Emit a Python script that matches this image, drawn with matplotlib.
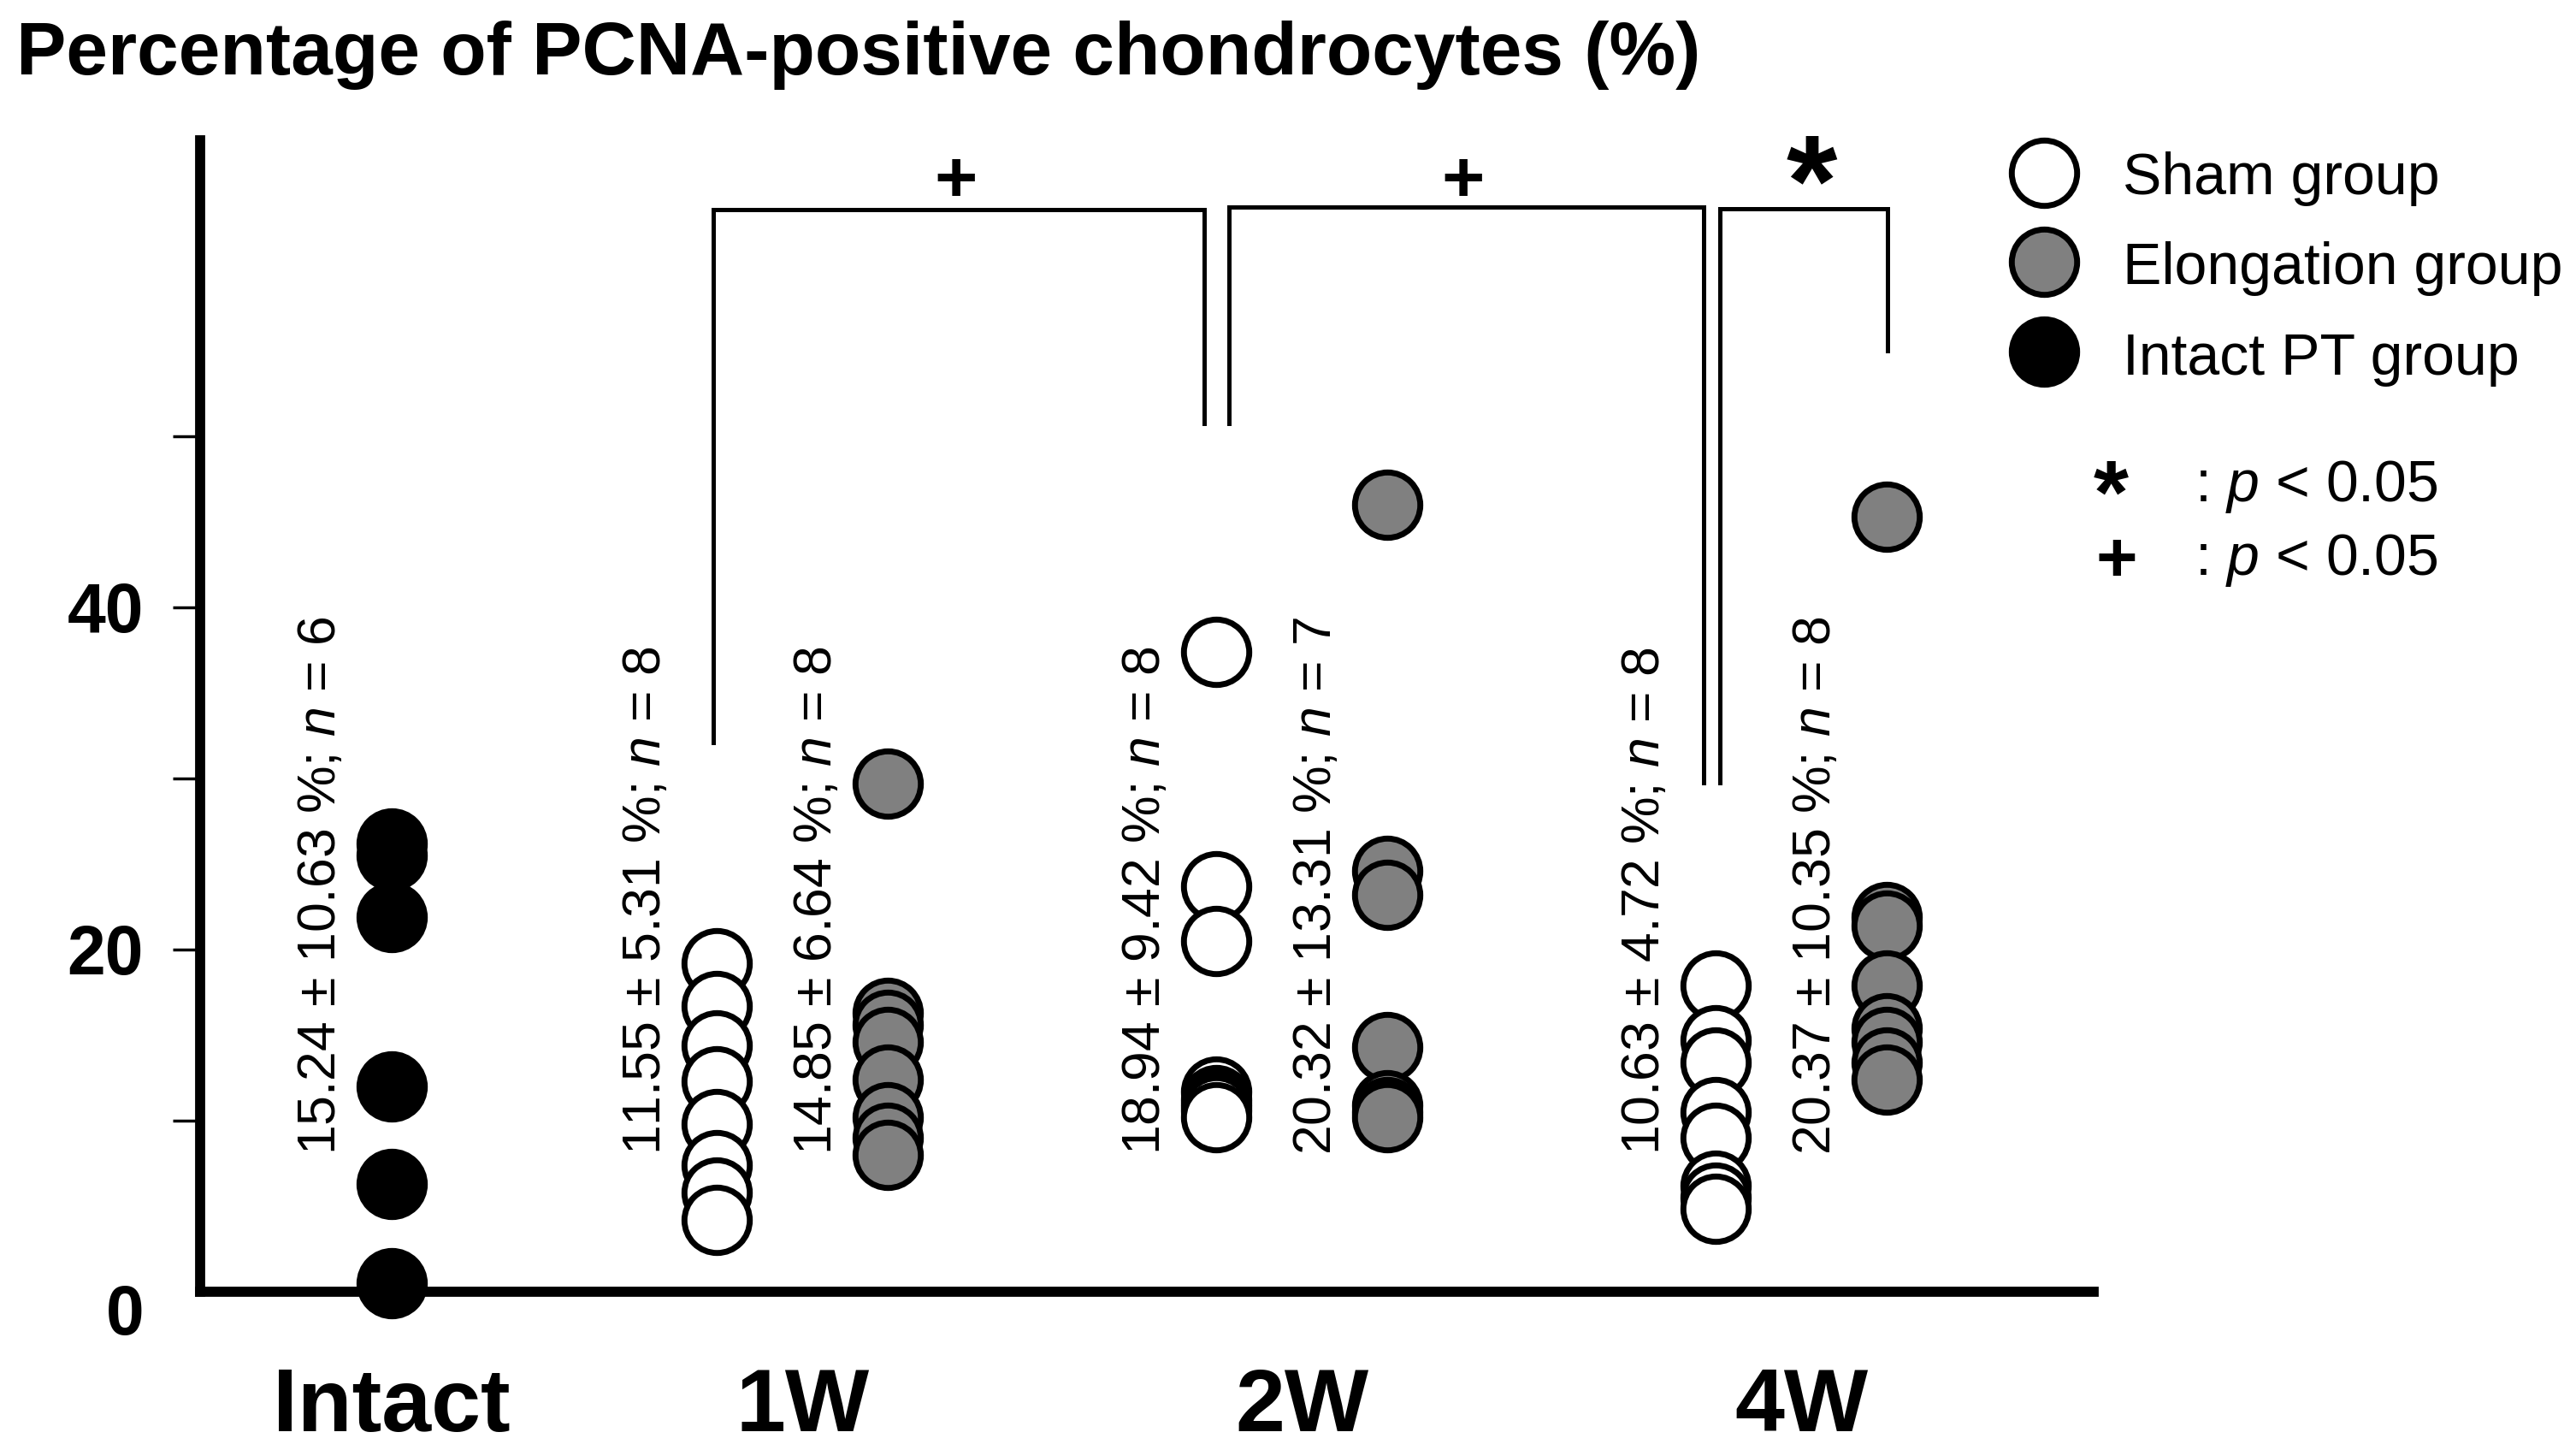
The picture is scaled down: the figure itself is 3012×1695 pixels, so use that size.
import matplotlib
matplotlib.use('Agg')
import matplotlib.pyplot as plt
import matplotlib.transforms as mtransforms

plt.rcParams['font.family'] = 'Liberation Sans'
plt.rcParams['mathtext.fontset'] = 'custom'
plt.rcParams['mathtext.rm'] = 'Liberation Sans'
plt.rcParams['mathtext.it'] = 'Liberation Sans:italic'

# groups on the x axis
groups = ['Intact', '1W', '2W', '4W']
group_x = [2.24, 7.04, 12.88, 18.72]

# individual values (%)
intact_pt = [26.2, 25.5, 21.9, 12.0, 6.3, 0.5]
sham_1w = [19.2, 16.7, 14.4, 12.3, 9.8, 7.4, 5.8, 4.2]
elong_1w = [29.7, 16.3, 15.6, 14.6, 12.4, 10.2, 9.0, 8.0]
sham_2w = [37.4, 23.7, 20.5, 11.7, 11.2, 10.9, 10.6, 10.2]
elong_2w = [46.0, 24.6, 23.2, 14.3, 10.9, 10.5, 10.2]
sham_4w = [17.9, 14.7, 13.4, 10.5, 9.0, 6.2, 5.5, 4.85]
elong_4w = [45.3, 21.9, 21.4, 17.9, 15.4, 14.6, 13.4, 12.4]

# mean, SD and n printed next to each column
means = [15.24, 11.55, 14.85, 18.94, 20.32, 10.63, 20.37]
sds = [10.63, 5.31, 6.64, 9.42, 13.31, 4.72, 10.35]
ns = [6, 8, 8, 8, 7, 8, 8]

legend_labels = ['Sham group', 'Elongation group', 'Intact PT group']
gray = '#808080'

fig = plt.figure(figsize=(30.12, 16.95), dpi=100)
ax = fig.add_axes([0.0777, 0.1091, 0.7351, 0.7944])

off = 1.0
col_x = [group_x[0],
         group_x[1] - off, group_x[1] + off,
         group_x[2] - off, group_x[2] + off,
         group_x[3] - off, group_x[3] + off]
col_vals = [intact_pt, sham_1w, elong_1w, sham_2w, elong_2w, sham_4w, elong_4w]
col_fill = ['black', 'white', gray, 'white', gray, 'white', gray]

for x, vals, fc, m, sd, n in zip(col_x, col_vals, col_fill, means, sds, ns):
    ax.plot([x] * len(vals), vals, 'o', ms=55, mfc=fc, mec='black', mew=5,
            clip_on=False, zorder=3)
    ax.text(x - 0.83, 8.0, f'{m:.2f} \u00b1 {sd:.2f} %; $n$ = {n}',
            rotation=90, ha='center', va='bottom', fontsize=45)

# significance brackets
brackets = [(6.00, 11.74, 32.1, 63.25, 50.75),
            (12.03, 17.575, 50.75, 63.4, 29.75),
            (17.77, 19.73, 29.75, 63.3, 55.0)]
for x0, x1, low0, top, low1 in brackets:
    ax.plot([x0, x0, x1, x1], [low0, top, top, low1], color='black', lw=3.6,
            solid_joinstyle='miter', clip_on=False)
ax.text(8.83, 63.7, '+', ha='center', va='baseline', fontsize=62, fontweight='bold')
ax.text(14.76, 63.7, '+', ha='center', va='baseline', fontsize=62, fontweight='bold')
ax.text(18.84, 62.3, '*', ha='center', va='baseline', fontsize=110, fontweight='bold')

# legend
leg_y = [65.4, 60.2, 54.95]
leg_base = [64.15, 58.87, 53.6]
for y, yb, fc, lab in zip(leg_y, leg_base, ['white', gray, 'black'], legend_labels):
    ax.plot(21.56, y, 'o', ms=55, mfc=fc, mec='black', mew=5, clip_on=False)
    ax.text(22.48, yb, lab, ha='left', va='baseline', fontsize=49, clip_on=False)
ax.text(22.34, 44.9, '*', ha='center', va='baseline', fontsize=76, fontweight='bold')
ax.text(22.41, 41.5, '+', ha='center', va='baseline', fontsize=60, fontweight='bold')
ax.text(23.32, 46.2, ': $p$ < 0.05', ha='left', va='baseline', fontsize=49)
ax.text(23.32, 41.9, ': $p$ < 0.05', ha='left', va='baseline', fontsize=49)

# group labels under the axis
for gx, g in zip(group_x, groups):
    ax.text(gx, -8.15, g, ha='center', va='baseline', fontsize=75,
            fontweight='bold', clip_on=False)

fig.text(0.0063, 0.9487, 'Percentage of PCNA-positive chondrocytes (%)',
         fontsize=63, fontweight='bold', va='baseline')

ax.set_xlim(0, 22.14)
ax.set_ylim(0, 67.3)
ax.set_xticks([])
ax.set_yticks([0, 20, 40])
ax.set_yticks([10, 30, 50], minor=True)
ax.tick_params(axis='y', which='both', direction='out', length=23, width=2.5,
               pad=24.5, labelsize=58)
for lbl in ax.get_yticklabels():
    lbl.set_fontweight('bold')
ax.yaxis.get_major_ticks()[0].tick1line.set_visible(False)

for side in ['top', 'right']:
    ax.spines[side].set_visible(False)
for side in ['left', 'bottom']:
    ax.spines[side].set_linewidth(8.5)
    ax.spines[side].set_capstyle('projecting')

fig.canvas.draw()
lbl0 = ax.get_yticklabels()[0]
lbl0.set_transform(lbl0.get_transform() +
                   mtransforms.ScaledTranslation(0, -0.2, fig.dpi_scale_trans))

fig.savefig('out.png', dpi=100)
